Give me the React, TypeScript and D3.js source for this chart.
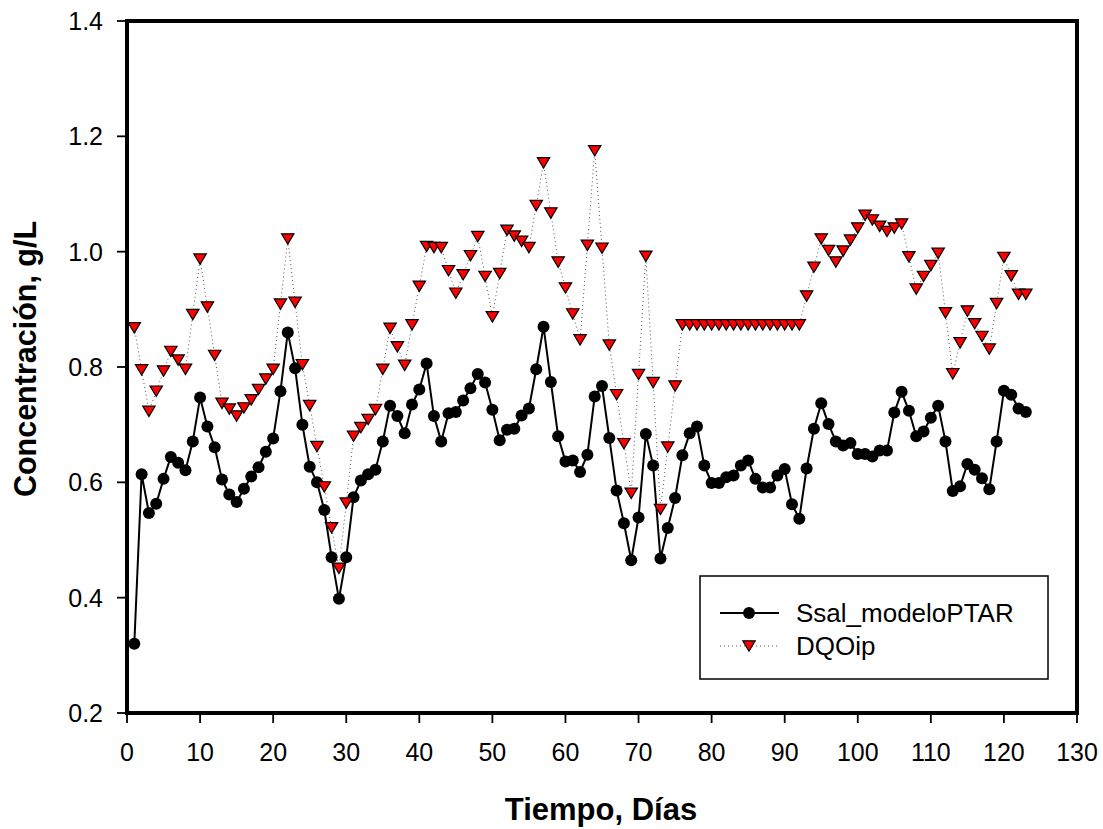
import React from "react";
import * as d3 from "d3";

const xTicks = [0, 10, 20, 30, 40, 50, 60, 70, 80, 90, 100, 110, 120, 130];
const yTicks = [0.2, 0.4, 0.6, 0.8, 1.0, 1.2, 1.4];

const ssal = [
  0.32, 0.614, 0.547, 0.563, 0.606, 0.644, 0.634, 0.621, 0.671, 0.747,
  0.697, 0.661, 0.605, 0.579, 0.566, 0.589, 0.61, 0.626, 0.653, 0.676,
  0.758, 0.86, 0.798, 0.7, 0.627, 0.6, 0.552, 0.47, 0.398, 0.47,
  0.574, 0.603, 0.614, 0.622, 0.671, 0.733, 0.715, 0.685, 0.735, 0.761,
  0.806, 0.715, 0.671, 0.72, 0.722, 0.742, 0.763, 0.788, 0.773, 0.726,
  0.673, 0.691, 0.693, 0.716, 0.728, 0.796, 0.87, 0.774, 0.68, 0.636,
  0.638, 0.618, 0.648, 0.749, 0.767, 0.677, 0.586, 0.529, 0.465, 0.539,
  0.684, 0.629, 0.468, 0.521, 0.573, 0.647, 0.685, 0.697, 0.629, 0.599,
  0.599, 0.609, 0.612, 0.629, 0.638, 0.606, 0.591, 0.591, 0.612, 0.623,
  0.562, 0.537, 0.624, 0.693, 0.737, 0.701, 0.671, 0.664, 0.668, 0.649,
  0.649, 0.645, 0.655, 0.655, 0.721, 0.757, 0.724, 0.68, 0.688, 0.712,
  0.733, 0.671, 0.585, 0.593, 0.632, 0.622, 0.607, 0.588, 0.671, 0.759,
  0.752, 0.728, 0.722,
];

const dqoip = [
  0.868, 0.795, 0.723, 0.758, 0.793, 0.827, 0.812, 0.796, 0.891, 0.987,
  0.904, 0.82, 0.737, 0.727, 0.715, 0.729, 0.743, 0.761, 0.779, 0.796,
  0.909, 1.022, 0.912, 0.804, 0.733, 0.662, 0.592, 0.521, 0.451, 0.564,
  0.68, 0.695, 0.709, 0.726, 0.796, 0.867, 0.835, 0.803, 0.873, 0.94,
  1.009, 1.007, 1.007, 0.967, 0.928, 0.96, 0.993, 1.026, 0.957, 0.887,
  0.962, 1.037, 1.027, 1.018, 1.007, 1.08, 1.154, 1.067, 0.982, 0.937,
  0.892, 0.847, 1.011, 1.175, 1.006, 0.838, 0.752, 0.667, 0.581, 0.787,
  0.992, 0.773, 0.553, 0.661, 0.767, 0.873, 0.873, 0.873, 0.873, 0.873,
  0.873, 0.873, 0.873, 0.873, 0.873, 0.873, 0.873, 0.873, 0.873, 0.873,
  0.873, 0.873, 0.923, 0.973, 1.022, 1.002, 0.982, 1.001, 1.02, 1.041,
  1.063, 1.055, 1.044, 1.035, 1.041, 1.048, 0.991, 0.935, 0.957, 0.976,
  0.997, 0.894, 0.788, 0.842, 0.897, 0.875, 0.853, 0.831, 0.91, 0.99,
  0.958, 0.926, 0.926,
];

const days = ssal.map((_, i) => i + 1);

const W = 1103;
const H = 829;
const L = 127, R = 1077, T = 21, B = 713;
const FONT = "Arial, 'Liberation Sans', Helvetica, sans-serif";

function tri(cx: number, cy: number) {
  const w = 6.2, h = 5.2;
  return `M${cx - w},${cy - h}L${cx + w},${cy - h}L${cx},${cy + h}Z`;
}

export default function App() {
  const x = d3.scaleLinear().domain([0, 130]).range([L, R]);
  const y = d3.scaleLinear().domain([0.2, 1.4]).range([B, T]);
  const ssalPts = days.map((d, i) => [x(d), y(ssal[i])] as [number, number]);
  const dqoPts = days.map((d, i) => [x(d), y(dqoip[i])] as [number, number]);
  const line = d3.line();

  return (
    <svg
      width={W}
      height={H}
      style={{ position: "absolute", left: 0, top: 0, background: "#fff" }}
      fontFamily={FONT}
    >
      <rect x={0} y={0} width={W} height={H} fill="#fff" />
      {/* y ticks */}
      {yTicks.map((t) => (
        <g key={"y" + t}>
          <line x1={L - 10} x2={L} y1={y(t)} y2={y(t)} stroke="#000" strokeWidth={1.8} />
          <text x={103} y={y(t) + 9} fontSize={25} textAnchor="end" fill="#000">
            {t.toFixed(1)}
          </text>
        </g>
      ))}
      {/* x ticks */}
      {xTicks.map((t) => (
        <g key={"x" + t}>
          <line x1={x(t)} x2={x(t)} y1={B} y2={B + 10} stroke="#000" strokeWidth={1.8} />
          <text x={x(t)} y={761} fontSize={25} textAnchor="middle" fill="#000">
            {t}
          </text>
        </g>
      ))}
      {/* Ssal series */}
      <path d={line(ssalPts) || ""} fill="none" stroke="#000" strokeWidth={2} />
      {ssalPts.map((p, i) => (
        <circle key={"c" + i} cx={p[0]} cy={p[1]} r={6} fill="#000" />
      ))}
      {/* DQOip series */}
      <path
        d={line(dqoPts) || ""}
        fill="none"
        stroke="#555"
        strokeWidth={1}
        strokeDasharray="1,3"
      />
      {dqoPts.map((p, i) => (
        <path key={"t" + i} d={tri(p[0], p[1])} fill="#ff0000" stroke="#000" strokeWidth={1.2} />
      ))}
      {/* frame */}
      <rect x={L} y={T} width={R - L} height={B - T} fill="none" stroke="#000" strokeWidth={4} />
      {/* legend */}
      <rect x={700} y={576} width={348} height={103} fill="#fff" stroke="#000" strokeWidth={1.5} />
      <line x1={720} x2={779} y1={613} y2={613} stroke="#000" strokeWidth={2} />
      <circle cx={749} cy={613} r={6} fill="#000" />
      <text x={796} y={622} fontSize={26} fill="#000">Ssal_modeloPTAR</text>
      <line x1={720} x2={779} y1={646} y2={646} stroke="#555" strokeWidth={1} strokeDasharray="1,3" />
      <path d={tri(749, 646)} fill="#ff0000" stroke="#000" strokeWidth={1.2} />
      <text x={796} y={655} fontSize={26} fill="#000">DQOip</text>
      {/* axis titles */}
      <text x={601} y={820} fontSize={31} fontWeight="bold" textAnchor="middle" fill="#000">
        Tiempo, Días
      </text>
      <text
        transform={`translate(36, 359) rotate(-90)`}
        fontSize={30.5}
        fontWeight="bold"
        textAnchor="middle"
        fill="#000"
      >
        Concentración, g/L
      </text>
    </svg>
  );
}
